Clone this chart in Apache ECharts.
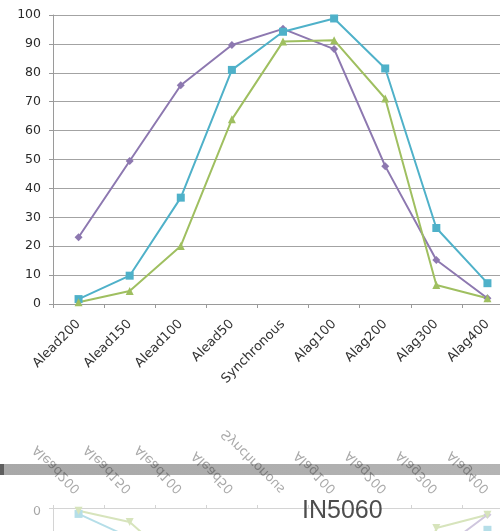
<!DOCTYPE html>
<html>
<head>
<meta charset="utf-8">
<script src="https://cdn.jsdelivr.net/npm/echarts@6/dist/echarts.min.js"></script>
<style>
  html, body { margin: 0; padding: 0; background: #fff; }
  body { width: 500px; height: 531px; overflow: hidden; position: relative; }
  #band {
    position: absolute; left: 0; top: 464px; width: 500px; height: 11px;
    background: linear-gradient(to right, #5e5e5e 0, #5e5e5e 4px, #a8a8a8 4px, #b4b4b4 100%);
  }
  #main, #mirror { position: absolute; left: 0; width: 520px; height: 531px; }
  #main { top: 0; }
  #mirror { top: 282px; transform: scaleY(-1); opacity: 0.42; filter: blur(0.6px); }
  #caption {
    position: absolute; left: 302px; top: 497px;
    font-family: "Liberation Sans", Arial, sans-serif; font-size: 25px; line-height: 1;
    color: #4d4d4d;
  }
</style>
</head>
<body>
<div id="band"></div>
<div id="mirror"></div>
<div id="main"></div>
<div id="caption">IN5060</div>
<script>
// Offsets between audio and video (lead / lag, ms)
const categories = ['Alead200', 'Alead150', 'Alead100', 'Alead50', 'Synchronous', 'Alag100', 'Alag200', 'Alag300', 'Alag400'];

// Percentage of answers per condition
const seriesPurple = [23.1, 49.5, 75.7, 89.6, 95.2, 88.2, 47.7, 15.2, 2.0];
const seriesBlue   = [1.7, 9.8, 36.8, 81.0, 94.2, 98.8, 81.5, 26.3, 7.2];
const seriesGreen  = [0.6, 4.5, 20.1, 63.9, 90.8, 91.3, 71.1, 6.6, 2.0];

const yMin = 0, yMax = 100, yStep = 10;

function buildOption() {
  const textFont = 'DejaVu Sans, Verdana, sans-serif';
  const line = (data, color, symbol, size) => ({
    type: 'line',
    data: data,
    symbol: symbol,
    symbolSize: size,
    showSymbol: true,
    lineStyle: { color: color, width: 2 },
    itemStyle: { color: color, borderWidth: 0 },
    emphasis: { disabled: true },
    z: 3
  });
  return {
    animation: false,
    backgroundColor: 'transparent',
    grid: { left: 53, right: 7, top: 15, bottom: 227, containLabel: false },
    xAxis: {
      type: 'category',
      data: categories,
      boundaryGap: true,
      axisLine: { show: true, lineStyle: { color: '#9a9a9a', width: 1 } },
      axisTick: { show: true, alignWithLabel: false, length: 4, lineStyle: { color: '#9a9a9a' } },
      axisLabel: {
        rotate: 45, margin: 18, interval: 0,
        fontFamily: textFont, fontSize: 13, color: '#333333'
      },
      splitLine: { show: false }
    },
    yAxis: {
      type: 'value',
      min: yMin, max: yMax, interval: yStep,
      axisLine: { show: true, lineStyle: { color: '#9a9a9a', width: 1 } },
      axisTick: { show: true, length: 4, lineStyle: { color: '#9a9a9a' } },
      axisLabel: { margin: 12, fontFamily: textFont, fontSize: 12.5, color: '#2a2a2a' },
      splitLine: { show: true, lineStyle: { color: '#a3a3a3', width: 1 } }
    },
    series: [
      line(seriesPurple, '#8d78b0', 'diamond', 8),
      line(seriesBlue, '#4fb1c9', 'rect', 8),
      line(seriesGreen, '#9fbf60', 'triangle', 8)
    ]
  };
}

const mainChart = echarts.init(document.getElementById('main'), null, { renderer: 'canvas' });
mainChart.setOption(buildOption());

// Mirrored copy underneath, flipped by CSS
const mirrorChart = echarts.init(document.getElementById('mirror'), null, { renderer: 'canvas' });
mirrorChart.setOption(buildOption());
</script>
</body>
</html>
